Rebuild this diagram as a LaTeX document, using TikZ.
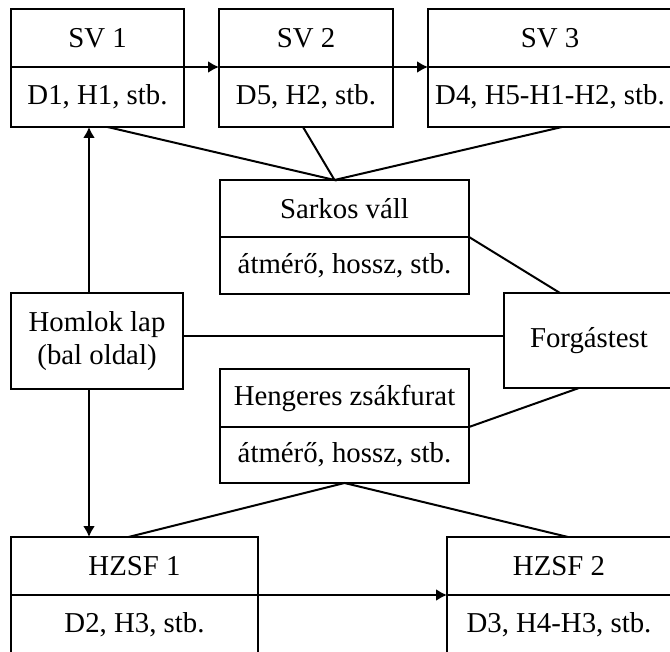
\documentclass[tikz,border=0pt]{standalone}
\usepackage{fontspec}
\setmainfont{Liberation Serif}
\usetikzlibrary{positioning,arrows.meta}
\begin{document}
\begin{tikzpicture}[x=0.5pt,y=-0.5pt,line width=1pt,every node/.style={block},
				block/.style={draw,rectangle,outer sep=0pt,inner sep=1pt,node distance=0pt,
					font=\fontsize{14.4}{16.5}\selectfont,align=center},
				head/.style={minimum height=29pt},
				body/.style={minimum height=30pt},
				arr/.style={-{Latex[length=5.5pt,width=6pt]}}]
				\useasboundingbox (0,0) rectangle (670,652);
				\clip (0,0) rectangle (670,652);
				\node (SV1)   [head,minimum width=86.5pt,anchor=north west] at (11,9) {SV 1};
				\node (SV1b)  [body,minimum width=86.5pt,below=of SV1]      {D1, H1, stb.};
				\node (SV2)   [head,minimum width=87pt,right=17.5pt of SV1] {SV 2};
				\node (SV2b)  [body,minimum width=87pt,below=of SV2]        {D5, H2, stb.};
				\node (SV3)   [head,minimum width=122pt,right=17.5pt of SV2] {SV 3};
				\node (SV3b)  [body,minimum width=122pt,below=of SV3]       {D4, H5-H1-H2, stb.};
				\node (SARK)  [minimum height=28.5pt,minimum width=124.5pt,anchor=north west] at (220,180) {Sarkos váll};
				\node (SARKb) [minimum height=28.5pt,minimum width=124.5pt,below=of SARK] {átmérő, hossz, stb.};
				\node (HOML)  [minimum height=48pt,minimum width=86pt,anchor=north west] at (11,293) {Homlok lap\\(bal oldal)};
				\node (FORG)  [minimum height=47.5pt,minimum width=85pt,anchor=north west] at (504,293) {Forgástest};
				\node (HENG)  [head,minimum width=124.5pt,anchor=north west] at (220,369) {Hengeres zsákfurat};
				\node (HENGb) [minimum height=28pt,minimum width=124.5pt,below=of HENG] {átmérő, hossz, stb.};
				\node (HZSF1) [head,minimum width=123.5pt,anchor=north west] at (11,537) {HZSF 1};
				\node (HZSF1b)[body,minimum width=123.5pt,below=of HZSF1]   {D2, H3, stb.};
				\node (HZSF2) [head,minimum width=112pt,right=94.5pt of HZSF1] {HZSF 2};
				\node (HZSF2b)[body,minimum width=112pt,below=of HZSF2]     {D3, H4-H3, stb.};
				\coordinate (APEX) at ([xshift=-5pt]SARK.north);

				\draw[arr] (SV1.south east) -- (SV2.south west);
				\draw[arr] (SV2.south east) -- (SV3.south west);
				\draw[arr] (HZSF1.south east) -- (HZSF2.south west);
				\draw ([xshift=5pt]SV1b.south) -- (APEX) -- ([xshift=-1.5pt]SV2b.south)
					(APEX) -- ([xshift=6pt]SV3b.south);
				\draw (SARK.south east) -- ([xshift=-14.5pt]FORG.north);
				\draw (HENG.south east) -- ([xshift=-5pt]FORG.south);
				\draw ([yshift=2.5pt]HOML.east) -- ([yshift=2.5pt]HOML.east -| FORG.west);
				\draw ([xshift=-3pt]HZSF1.north) -- (HENGb.south) -- ([xshift=4.5pt]HZSF2.north);
				\draw[arr] ([xshift=-4pt]HOML.north) -- ([xshift=-4pt]HOML.north |- SV1b.south);
				\draw[arr] ([xshift=-4pt]HOML.south) -- ([xshift=-4pt]HOML.south |- HZSF1.north);
			\end{tikzpicture}
\end{document}
